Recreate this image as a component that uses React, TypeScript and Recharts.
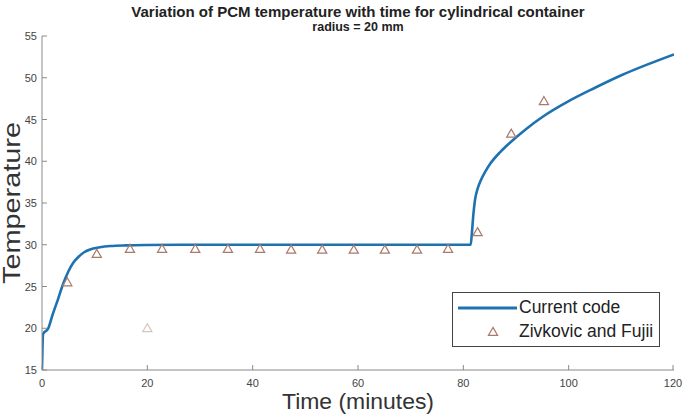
import { ComposedChart, Line, Scatter, XAxis, YAxis, Legend, Cell } from 'recharts';

// simulated PCM temperature (current code)
const curveTime = [0, 0.2, 1.2, 2, 3, 4, 5, 6, 7, 8, 9, 11, 13, 16, 20, 30, 50, 70, 81.4, 81.65, 81.9, 82.2, 82.7, 83.3, 84.2, 85.1, 87, 89, 92, 95, 100, 105, 110, 115, 120];
const curveTemp = [15, 19.3, 20, 21.6, 23.4, 25.3, 26.8, 27.9, 28.6, 29.1, 29.4, 29.7, 29.85, 29.93, 29.97, 30, 30, 30, 30, 31.6, 33.6, 35.3, 36.7, 37.7, 38.8, 39.7, 41.1, 42.3, 43.9, 45.3, 47.2, 48.8, 50.3, 51.6, 52.8];

// experimental data (Zivkovic and Fujii)
const expTime = [4.8, 10.4, 16.7, 22.8, 29.1, 35.3, 41.4, 47.3, 53.2, 59.2, 65.1, 71.2, 77.1, 82.7, 89.1, 95.3, 20];
const expTemp = [25.5, 28.9, 29.5, 29.5, 29.5, 29.5, 29.5, 29.4, 29.4, 29.4, 29.4, 29.4, 29.5, 31.5, 43.3, 47.2, 20];

const xTicks = [0, 20, 40, 60, 80, 100, 120];
const yTicks = [15, 20, 25, 30, 35, 40, 45, 50, 55];

const curveData = curveTime.map((t, i) => ({ time: t, temp: curveTemp[i] }));
const expData = expTime.map((t, i) => ({ time: t, temp: expTemp[i] }));

const LINE_COLOR = '#1f72b0';
const TRI_COLOR = '#a9796a';
const AXIS_COLOR = '#8a8a8a';
const FONT = '"Liberation Sans", Arial, sans-serif';

const Triangle = (props: any) => {
  const { cx, cy, stroke } = props;
  if (cx == null || cy == null) return null;
  const s = 4.6;
  return (
    <path
      d={`M${cx},${cy - s} L${cx + s},${cy + s * 0.75} L${cx - s},${cy + s * 0.75} Z`}
      fill="none"
      stroke={stroke || TRI_COLOR}
      strokeWidth={1.2}
    />
  );
};

const BottomTick = ({ x, y, payload }: any) => (
  <g>
    <line x1={x} y1={y} x2={x} y2={y - 5} stroke={AXIS_COLOR} />
    <text x={x} y={y + 17} textAnchor="middle" fontSize={11} fill="#444" fontFamily={FONT}>{payload.value}</text>
  </g>
);

const LeftTick = ({ x, y, payload }: any) => (
  <g>
    <line x1={x} y1={y} x2={x + 5} y2={y} stroke={AXIS_COLOR} />
    <text x={x - 5} y={y + 4} textAnchor="end" fontSize={11} fill="#444" fontFamily={FONT}>{payload.value}</text>
  </g>
);

const TopTick = ({ x, y }: any) => <line x1={x} y1={y} x2={x} y2={y + 5} stroke={AXIS_COLOR} />;
const RightTick = ({ x, y }: any) => <line x1={x} y1={y} x2={x - 5} y2={y} stroke={AXIS_COLOR} />;

const XLabel = ({ viewBox }: any) => {
  const cx = viewBox.x + viewBox.width / 2;
  return (
    <text x={cx} y={viewBox.y + 39} textAnchor="middle" fontSize={22} textLength={152} lengthAdjust="spacingAndGlyphs" fill="#333" fontFamily={FONT}>
      Time (minutes)
    </text>
  );
};

const YLabel = ({ viewBox }: any) => {
  const cy = viewBox.y + viewBox.height / 2;
  return (
    <text
      x={20}
      y={cy}
      transform={`rotate(-90, 20, ${cy})`}
      textAnchor="middle"
      fontSize={23}
      textLength={162}
      lengthAdjust="spacingAndGlyphs"
      fill="#333"
      fontFamily={FONT}
    >
      Temperature
    </text>
  );
};

const LegendBox = () => (
  <div style={{ position: 'relative', border: '1.5px solid #444', background: '#fff', width: 208, height: 55, fontFamily: FONT, fontSize: 17.5, color: '#222', boxSizing: 'border-box' }}>
    <svg width={66} height={20} style={{ position: 'absolute', left: 0, top: 4 }}>
      <line x1={5} y1={11} x2={64} y2={11} stroke={LINE_COLOR} strokeWidth={3} />
    </svg>
    <span style={{ position: 'absolute', left: 66, top: 4, lineHeight: '20px', whiteSpace: 'nowrap' }}>Current code</span>
    <svg width={66} height={20} style={{ position: 'absolute', left: 0, top: 28 }}>
      <Triangle cx={40} cy={11} />
    </svg>
    <span style={{ position: 'absolute', left: 66, top: 28, lineHeight: '20px', whiteSpace: 'nowrap' }}>Zivkovic and Fujii</span>
  </div>
);

export default function App() {
  return (
    <div style={{ position: 'absolute', left: 0, top: 0, width: 685, height: 417, background: '#fff' }}>
      <div style={{ position: 'absolute', left: 42, top: 3, width: 632, textAlign: 'center', fontFamily: FONT, fontWeight: 'bold', fontSize: 15, color: '#222', whiteSpace: 'nowrap' }}>
        Variation of PCM temperature with time for cylindrical container
      </div>
      <div style={{ position: 'absolute', left: 42, top: 20, width: 632, textAlign: 'center', fontFamily: FONT, fontWeight: 'bold', fontSize: 12.5, color: '#222' }}>
        radius = 20 mm
      </div>
      <ComposedChart width={685} height={417} margin={{ top: 36, right: 11, bottom: 0, left: 0 }}>
        <XAxis
          xAxisId="b"
          dataKey="time"
          type="number"
          domain={[0, 120]}
          ticks={xTicks}
          allowDataOverflow
          height={47}
          tickSize={0}
          tickMargin={0}
          tickLine={false}
          axisLine={{ stroke: AXIS_COLOR }}
          tick={<BottomTick />}
          label={<XLabel />}
        />
        <XAxis
          xAxisId="t"
          orientation="top"
          dataKey="time"
          type="number"
          domain={[0, 120]}
          ticks={xTicks}
          allowDataOverflow
          height={0}
          tickSize={0}
          tickMargin={0}
          tickLine={false}
          axisLine={{ stroke: AXIS_COLOR }}
          tick={<TopTick />}
        />
        <YAxis
          yAxisId="l"
          type="number"
          domain={[15, 55]}
          ticks={yTicks}
          allowDataOverflow
          width={42}
          tickSize={0}
          tickMargin={0}
          tickLine={false}
          axisLine={{ stroke: AXIS_COLOR }}
          tick={<LeftTick />}
          label={<YLabel />}
        />
        <YAxis
          yAxisId="r"
          orientation="right"
          type="number"
          domain={[15, 55]}
          ticks={yTicks}
          allowDataOverflow
          width={0}
          tickSize={0}
          tickMargin={0}
          tickLine={false}
          axisLine={{ stroke: AXIS_COLOR }}
          tick={<RightTick />}
        />
        <Line
          xAxisId="b"
          yAxisId="l"
          data={curveData}
          dataKey="temp"
          type="monotone"
          stroke={LINE_COLOR}
          strokeWidth={2.6}
          dot={false}
          activeDot={false}
          isAnimationActive={false}
          name="Current code"
        />
        <Scatter
          xAxisId="b"
          yAxisId="l"
          data={expData}
          dataKey="temp"
          shape={<Triangle />}
          isAnimationActive={false}
          name="Zivkovic and Fujii"
        >
          {expData.map((d, i) => (
            <Cell key={i} stroke={d.time === 20 && d.temp === 20 ? '#d8c6be' : TRI_COLOR} />
          ))}
        </Scatter>
        <Legend
          layout="horizontal"
          verticalAlign="middle"
          align="center"
          content={<LegendBox />}
          wrapperStyle={{ position: 'absolute', left: 452, top: 292, width: 208, height: 55 }}
        />
      </ComposedChart>
    </div>
  );
}
